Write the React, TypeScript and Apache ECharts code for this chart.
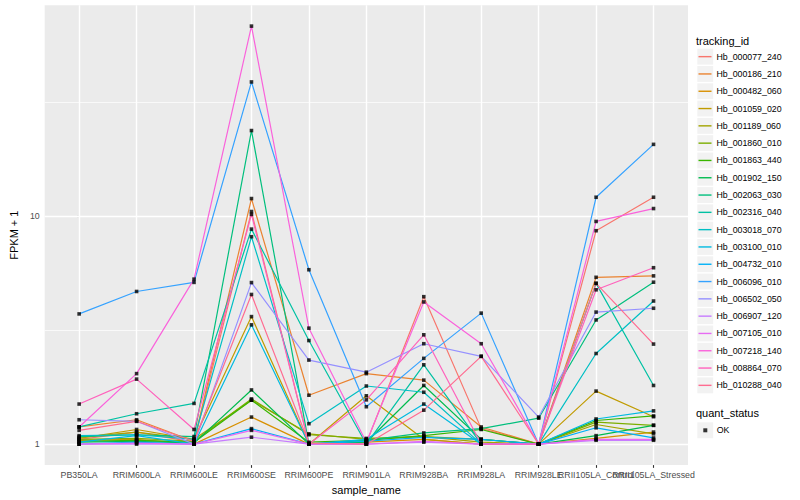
import React, { useEffect, useRef } from "react";
import * as echarts from "echarts";

const categories = [
  "PB350LA", "RRIM600LA", "RRIM600LE", "RRIM600SE", "RRIM600PE", "RRIM901LA",
  "RRIM928BA", "RRIM928LA", "RRIM928LE", "RRII105LA_Control", "RRII105LA_Stressed",
];

const trackingIds = [
  "Hb_000077_240", "Hb_000186_210", "Hb_000482_060", "Hb_001059_020", "Hb_001189_060",
  "Hb_001860_010", "Hb_001863_440", "Hb_001902_150", "Hb_002063_030", "Hb_002316_040",
  "Hb_003018_070", "Hb_003100_010", "Hb_004732_010", "Hb_006096_010", "Hb_006502_050",
  "Hb_006907_120", "Hb_007105_010", "Hb_007218_140", "Hb_008864_070", "Hb_010288_040",
];

// FPKM + 1 values per tracking id, in category order
const hb_000077_240 = [1.05, 1.13, 1.02, 10.5, 1.0, 1.01, 4.44, 1.17, 1.0, 8.65, 12.13];
const hb_000186_210 = [1.19, 1.28, 1.03, 11.97, 1.64, 2.04, 1.91, 1.19, 1.0, 5.4, 5.48];
const hb_000482_060 = [1.04, 1.05, 1.0, 1.315, 1.0, 1.02, 1.05, 1.0, 1.0, 1.06, 1.13];
const hb_001059_020 = [1.06, 1.16, 1.05, 3.63, 1.0, 1.63, 1.05, 1.0, 1.0, 1.71, 1.32];
const hb_001189_060 = [1.07, 1.13, 1.05, 1.56, 1.11, 1.05, 1.08, 1.02, 1.0, 1.22, 1.11];
const hb_001860_010 = [1.05, 1.06, 1.03, 1.58, 1.1, 1.06, 1.08, 1.05, 1.0, 1.25, 1.21];
const hb_001863_440 = [1.03, 1.04, 1.02, 1.56, 1.02, 1.04, 1.09, 1.16, 1.0, 1.27, 1.33];
const hb_001902_150 = [1.02, 1.03, 1.01, 1.73, 1.0, 1.02, 1.81, 1.05, 1.0, 1.09, 1.21];
const hb_002063_030 = [1.08, 1.1, 1.08, 23.8, 1.0, 1.04, 1.12, 1.17, 1.3, 3.51, 5.14];
const hb_002316_040 = [1.19, 1.36, 1.51, 8.79, 2.85, 1.0, 2.23, 1.0, 1.0, 5.08, 1.81];
const hb_003018_070 = [1.09, 1.1, 1.05, 8.14, 1.23, 1.8, 1.69, 1.0, 1.0, 2.5, 4.25];
const hb_003100_010 = [1.02, 1.09, 1.0, 3.34, 1.0, 1.05, 1.5, 1.0, 1.0, 1.29, 1.4];
const hb_004732_010 = [1.0, 1.02, 1.0, 1.17, 1.0, 1.03, 1.07, 1.05, 1.0, 1.18, 1.065];
const hb_006096_010 = [3.73, 4.68, 5.13, 38.9, 5.83, 1.46, 2.38, 3.76, 1.0, 12.13, 20.7];
const hb_006502_050 = [1.28, 1.26, 1.0, 5.12, 2.34, 2.07, 2.76, 2.43, 1.315, 3.8, 3.95];
const hb_006907_120 = [1.0, 1.0, 1.0, 1.073, 1.0, 1.0, 1.02, 1.0, 1.0, 1.04, 1.04];
const hb_007105_010 = [1.0, 1.01, 1.0, 1.15, 1.0, 1.0, 1.03, 1.0, 1.0, 1.05, 1.05];
const hb_007218_140 = [1.19, 2.04, 5.3, 68.4, 3.23, 1.02, 4.21, 2.76, 1.0, 9.5, 10.82];
const hb_008864_070 = [1.5, 1.93, 1.16, 10.2, 1.0, 1.565, 3.02, 1.0, 1.0, 4.76, 5.95];
const hb_010288_040 = [1.15, 1.26, 1.03, 4.54, 1.01, 1.0, 1.41, 2.43, 1.0, 5.08, 2.75];

const seriesValues = [
  hb_000077_240, hb_000186_210, hb_000482_060, hb_001059_020, hb_001189_060,
  hb_001860_010, hb_001863_440, hb_001902_150, hb_002063_030, hb_002316_040,
  hb_003018_070, hb_003100_010, hb_004732_010, hb_006096_010, hb_006502_050,
  hb_006907_120, hb_007105_010, hb_007218_140, hb_008864_070, hb_010288_040,
];

const quantStatus = ["OK"];
const yTickValues = [1, 10];
const yMinorValues = [3.1623, 31.623];

const colors = [
  "#F8766D", "#EA8331", "#D89000", "#C09B00", "#A3A500", "#7CAE00", "#39B600",
  "#00BB4E", "#00BF7D", "#00C1A3", "#00BFC4", "#00BAE0", "#00B0F6", "#35A2FF",
  "#9590FF", "#C77CFF", "#E76BF3", "#FA62DB", "#FF62BC", "#FF6C91",
];

const FONT = "'Liberation Sans', Arial, Helvetica, sans-serif";

export default function App() {
  const ref = useRef<HTMLDivElement>(null);

  useEffect(() => {
    if (!ref.current) return;
    const chart = echarts.init(ref.current, null, { renderer: "svg" });

    const catIdx = categories.map((_, i) => i);
    // labels split over two overlaid axes so that overlapping labels are both drawn
    const labelsA = catIdx.filter((i) => i % 2 === 0);
    const labelsB = catIdx.filter((i) => i % 2 === 1);

    const lineSeries = trackingIds.map((id, k) => ({
      name: id,
      type: "line",
      data: seriesValues[k].map((v, i) => [i, v]),
      showSymbol: false,
      symbol: "none",
      lineStyle: { width: 1.2, color: colors[k] },
      itemStyle: { color: colors[k] },
      z: 2,
      silent: true,
    }));

    const points: number[][] = [];
    seriesValues.forEach((arr) => arr.forEach((v, i) => points.push([i, v])));

    const gridLines: any[] = [];
    catIdx.forEach((i) =>
      gridLines.push({ xAxis: i, lineStyle: { color: "#FFFFFF", width: 1.4, type: "solid" } })
    );
    yTickValues.forEach((v) =>
      gridLines.push({ yAxis: v, lineStyle: { color: "#FFFFFF", width: 1.4, type: "solid" } })
    );
    yMinorValues.forEach((v) =>
      gridLines.push({ yAxis: v, lineStyle: { color: "#FFFFFF", width: 0.7, type: "solid" } })
    );

    const keyRowY = (i: number) => 56.65 + i * 17.3;
    const keyRects: any[] = trackingIds.map((_, i) => ({
      type: "rect",
      shape: { x: 697.3, y: keyRowY(i) - 7.95, width: 15.9, height: 15.9 },
      style: { fill: "#F2F2F2" },
      z: 0,
      silent: true,
    }));
    keyRects.push({
      type: "rect",
      shape: { x: 697.3, y: 430.3 - 7.95, width: 15.9, height: 15.9 },
      style: { fill: "#F2F2F2" },
      z: 0,
      silent: true,
    });

    const xLabelStyle = {
      formatter: (v: number) => categories[Math.round(v)] ?? "",
      color: "#4D4D4D",
      fontSize: 8.8,
      margin: 5,
      fontFamily: FONT,
      hideOverlap: false,
    };

    chart.setOption({
      animation: false,
      backgroundColor: "#FFFFFF",
      textStyle: { fontFamily: FONT },
      grid: {
        left: 35,
        right: 112,
        top: 5.2,
        bottom: 30.9,
        containLabel: false,
        show: true,
        backgroundColor: "#EBEBEB",
        borderWidth: 0,
      },
      xAxis: [
        {
          type: "value",
          min: -0.6,
          max: 10.6,
          position: "bottom",
          name: "sample_name",
          nameLocation: "middle",
          nameGap: 17,
          nameTextStyle: { fontSize: 11, color: "#000000", fontFamily: FONT },
          axisLine: { show: false },
          splitLine: { show: false },
          axisTick: {
            show: true,
            customValues: catIdx,
            length: 2.75,
            lineStyle: { color: "#333333", width: 1.1 },
          },
          axisLabel: { ...xLabelStyle, customValues: labelsA },
        },
        {
          type: "value",
          min: -0.6,
          max: 10.6,
          position: "bottom",
          offset: 0,
          axisLine: { show: false },
          splitLine: { show: false },
          axisTick: { show: false },
          axisLabel: { ...xLabelStyle, customValues: labelsB },
        },
      ],
      yAxis: {
        type: "log",
        logBase: 10,
        min: 0.8093,
        max: 84.5,
        name: "FPKM + 1",
        nameLocation: "middle",
        nameGap: 17,
        nameRotate: 90,
        nameTextStyle: { fontSize: 11, color: "#000000", fontFamily: FONT },
        axisLine: { show: false },
        splitLine: { show: false },
        minorSplitLine: { show: false },
        axisTick: {
          show: true,
          customValues: yTickValues,
          length: 2.75,
          lineStyle: { color: "#333333", width: 1.1 },
        },
        axisLabel: {
          customValues: yTickValues,
          formatter: (v: number) => String(Math.round(v)),
          color: "#4D4D4D",
          fontSize: 8.8,
          margin: 5,
          fontFamily: FONT,
        },
      },
      legend: [
        {
          data: trackingIds,
          orient: "vertical",
          left: 698.5,
          top: 48,
          padding: 0,
          itemGap: 0,
          itemWidth: 13,
          itemHeight: 1.4,
          icon: "rect",
          selectedMode: false,
          textStyle: { fontSize: 8.8, lineHeight: 17.3, color: "#000000", fontFamily: FONT },
        },
        {
          data: quantStatus,
          orient: "vertical",
          left: 703.3,
          top: 430.3 - 8.65,
          padding: 0,
          itemGap: 0,
          itemWidth: 4,
          itemHeight: 4,
          icon: "rect",
          selectedMode: false,
          textStyle: {
            fontSize: 8.8,
            lineHeight: 17.3,
            color: "#000000",
            fontFamily: FONT,
            padding: [0, 0, 0, 4.4],
          },
        },
      ],
      graphic: [
        ...keyRects,
        {
          type: "text",
          x: 696,
          y: 40.7,
          style: { text: "tracking_id", fontSize: 11, fill: "#000000", fontFamily: FONT, verticalAlign: "middle" },
          silent: true,
        },
        {
          type: "text",
          x: 696,
          y: 412.5,
          style: { text: "quant_status", fontSize: 11, fill: "#000000", fontFamily: FONT, verticalAlign: "middle" },
          silent: true,
        },
      ],
      series: [
        {
          name: "grid",
          type: "line",
          data: [],
          silent: true,
          z: 1,
          markLine: {
            silent: true,
            z: 1,
            symbol: ["none", "none"],
            label: { show: false },
            emphasis: { disabled: true },
            data: gridLines,
          },
        },
        ...lineSeries,
        {
          name: quantStatus[0],
          type: "scatter",
          data: points,
          symbol: "rect",
          symbolSize: 3.6,
          itemStyle: { color: "#000000" },
          z: 5,
          silent: true,
        },
      ],
    });

    return () => chart.dispose();
  }, []);

  return (
    <div
      ref={ref}
      style={{ position: "fixed", left: 0, top: 0, width: 800, height: 500, background: "#FFFFFF" }}
    />
  );
}
